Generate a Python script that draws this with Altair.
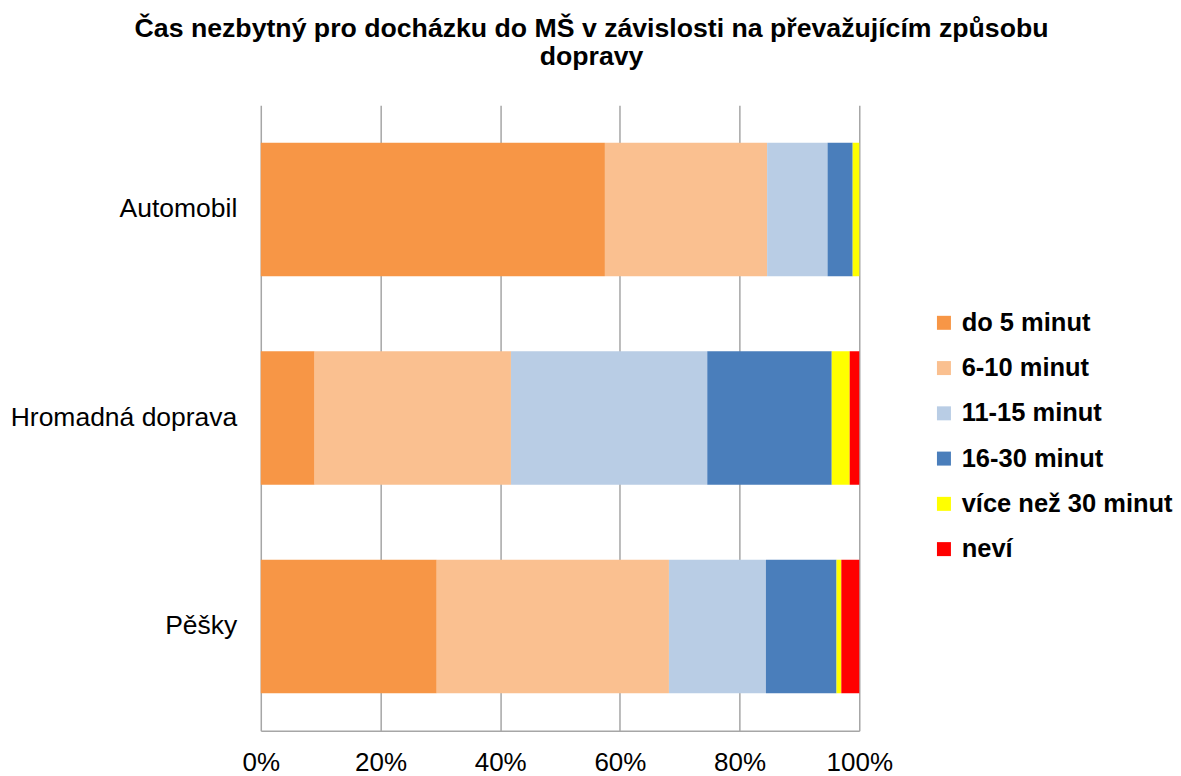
import altair as alt
import pandas as pd

categories = ["Automobil", "Hromadná doprava", "Pěšky"]
series = ["do 5 minut", "6-10 minut", "11-15 minut", "16-30 minut", "více než 30 minut", "neví"]
colors = ["#F79646", "#FAC090", "#B9CDE5", "#4A7EBB", "#FFFF00", "#FF0000"]
values = {
    "Automobil":        [57.5, 27.1, 10.1, 4.2, 1.1, 0.0],
    "Hromadná doprava": [9.0, 32.8, 32.8, 20.8, 3.0, 1.6],
    "Pěšky":            [29.4, 38.8, 16.2, 11.8, 0.8, 3.0],
}

rows = []
for c in categories:
    for i, s in enumerate(series):
        rows.append({"kategorie": c, "cas": s, "order": i, "hodnota": values[c][i]})
df = pd.DataFrame(rows)

FONT = "Liberation Sans"
GRID = "#A6A6A6"

chart = alt.Chart(df).mark_bar().encode(
    y=alt.Y("kategorie:N", sort=categories, title=None,
            scale=alt.Scale(paddingInner=0.36, paddingOuter=0.18),
            axis=alt.Axis(labelFontSize=26.5, labelFont=FONT, labelColor="#000000",
                          ticks=False, domain=False, labelPadding=24, labelLimit=400)),
    x=alt.X("hodnota:Q", stack="normalize", title=None,
            scale=alt.Scale(domain=[0, 1], nice=False),
            axis=alt.Axis(format=".0%", values=[0, 0.2, 0.4, 0.6, 0.8, 1.0],
                          labelFontSize=26, labelFont=FONT, labelColor="#000000",
                          labelFlush=False,
                          ticks=False, domain=True, domainColor=GRID, domainWidth=1.5,
                          labelPadding=19,
                          grid=True, gridColor=GRID, gridWidth=1.5)),
    color=alt.Color("cas:N", sort=series, title=None,
                    scale=alt.Scale(domain=series, range=colors),
                    legend=alt.Legend(orient="none", legendX=671, legendY=205,
                                      symbolType="square", symbolSize=196,
                                      symbolStrokeWidth=0,
                                      labelFontSize=25.5, labelFont=FONT, labelFontWeight="bold",
                                      labelColor="#000000", rowPadding=18.3, labelOffset=5,
                                      labelLimit=400)),
    order=alt.Order("order:Q"),
).properties(
    width=599,
    height=626,
    padding={"left": 2, "top": 7, "right": 0, "bottom": 0},
    title=alt.TitleParams(
        text=["Čas nezbytný pro docházku do MŠ v závislosti na převažujícím způsobu", "dopravy"],
        fontSize=26.7, font=FONT, fontWeight="bold", color="#000000",
        anchor="middle", frame="bounds", lineHeight=28, offset=35,
    ),
).configure_view(stroke=None)

chart.save("out.html", embed_options={"renderer": "svg", "actions": False})
